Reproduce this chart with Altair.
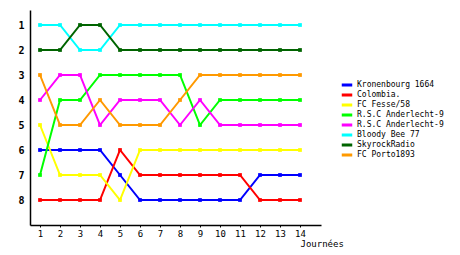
import altair as alt
import pandas as pd

rounds = list(range(1, 15))
series = ["Kronenbourg 1664", "Colombia.", "FC Fesse/58", "R.S.C Anderlecht-9",
          "R.S.C Anderlecht-9 ", "Bloody Bee 77", "SkyrockRadio", "FC Porto1893"]
colors = ["#0000ff", "#ff0000", "#ffff00", "#00ff00", "#ff00ff", "#00ffff", "#006400", "#ff9900"]

kronenbourg = [6, 6, 6, 6, 7, 8, 8, 8, 8, 8, 8, 7, 7, 7]
colombia = [8, 8, 8, 8, 6, 7, 7, 7, 7, 7, 7, 8, 8, 8]
fesse = [5, 7, 7, 7, 8, 6, 6, 6, 6, 6, 6, 6, 6, 6]
anderlecht_a = [7, 4, 4, 3, 3, 3, 3, 3, 5, 4, 4, 4, 4, 4]
anderlecht_b = [4, 3, 3, 5, 4, 4, 4, 5, 4, 5, 5, 5, 5, 5]
bloody = [1, 1, 2, 2, 1, 1, 1, 1, 1, 1, 1, 1, 1, 1]
skyrock = [2, 2, 1, 1, 2, 2, 2, 2, 2, 2, 2, 2, 2, 2]
porto = [3, 5, 5, 4, 5, 5, 5, 4, 3, 3, 3, 3, 3, 3]

values = [kronenbourg, colombia, fesse, anderlecht_a, anderlecht_b, bloody, skyrock, porto]
rows = []
for name, vals in zip(series, values):
    for r, v in zip(rounds, vals):
        rows.append({"team": name, "round": r, "rank": v})
df = pd.DataFrame(rows)

FONT = "DejaVu Sans Mono"

x = alt.X("round:Q", scale=alt.Scale(domain=[0.5, 15.05], nice=False, zero=False),
          axis=alt.Axis(values=rounds, title="Journées", titleAnchor="end", titleAlign="left",
                        titleX=270, titleY=14, titleFontWeight="normal", titleFont=FONT,
                        titleFontSize=9, labelFont=FONT, labelFontSize=9, grid=False,
                        domainColor="black", domainWidth=1.5, tickColor="black", tickSize=2,
                        labelColor="black", labelPadding=2))
y = alt.Y("rank:Q", scale=alt.Scale(domain=[9, 0.4], nice=False, zero=False),
          axis=alt.Axis(values=list(range(1, 9)), title=None, labelFont=FONT, labelFontSize=10,
                        labelFontWeight="bold", grid=False, domainColor="black", domainWidth=1.5,
                        ticks=False, labelColor="black", labelPadding=6))
color = alt.Color("team:N", scale=alt.Scale(domain=series, range=colors),
                  legend=alt.Legend(title=None, orient="none", legendX=310, legendY=70,
                                    symbolType="stroke", symbolStrokeWidth=3, symbolSize=110,
                                    labelFont=FONT, labelFontSize=8, labelColor="black",
                                    rowPadding=0, clipHeight=10, symbolOffset=0, labelOffset=3,
                                    labelLimit=200))

base = alt.Chart(df).encode(x=x, y=y, color=color, detail="team:N")
lines = base.mark_line(strokeWidth=2, interpolate="linear")
pts = base.mark_point(shape="square", filled=True, size=14, opacity=1)

chart = (lines + pts).properties(
    width=291, height=215,
    padding={"left": 30, "top": 10, "right": 139, "bottom": 30},
    autosize=alt.AutoSizeParams(type="none"),
    background="white",
).configure_view(stroke=None)

chart.save("out.html", embed_options={"renderer": "svg", "actions": False})
